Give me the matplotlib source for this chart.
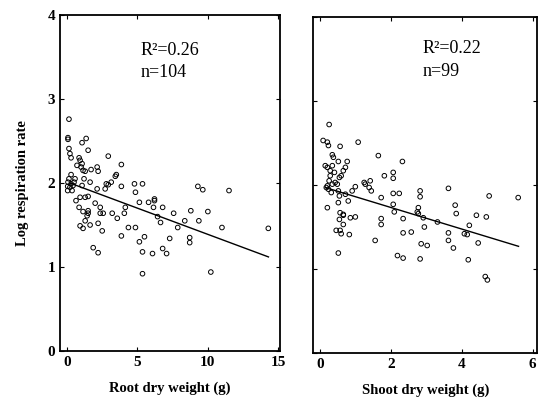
import numpy as np
import matplotlib
matplotlib.use("Agg")
import matplotlib.pyplot as plt

# --- root panel (n=104) ---
root_x = [0.14, 0.07, 0.07, 1.07, 1.36, 0.14, 0.21, 0.29, 1.5, 0.86,
          0.93, 1.07, 1.0, 1.14, 1.29, 2.93, 2.14, 2.21, 1.71, 3.86,
          3.5, 3.43, 0.29, 0.07, 0.29, 0.43, 0.21, 0.36, 1.07, 2.14,
          2.79, 2.93, 3.14, 3.86, 4.79, 5.36, 4.86, 6.21, 9.29, 9.64,
          11.5, 0.5, 0.93, 1.29, 1.5, 0.86, 1.14, 1.5, 1.5, 1.43,
          0.93, 1.14, 1.64, 1.29, 2.0, 2.36, 2.36, 2.57, 3.21, 2.21,
          2.5, 3.57, 4.14, 4.07, 4.36, 4.86, 3.86, 5.14, 5.79, 6.21,
          6.14, 6.79, 6.43, 6.64, 7.57, 7.86, 8.36, 8.79, 9.36, 10.0,
          11.0, 14.29, 5.14, 5.5, 5.36, 6.07, 6.79, 7.07, 7.29, 8.71,
          8.71, 1.86, 2.21, 5.36, 10.21, 2.71, 0.05, 0.14, 0.57, 0.71,
          0.64, 1.64, 0.05, 1.21]
root_y = [2.76, 2.54, 2.52, 2.48, 2.53, 2.41, 2.35, 2.30, 2.39, 2.30,
          2.27, 2.23, 2.19, 2.15, 2.14, 2.32, 2.19, 2.14, 2.16, 2.22,
          2.10, 2.08, 2.10, 2.01, 1.99, 1.97, 1.95, 1.91, 1.97, 1.93,
          1.99, 1.98, 2.01, 1.96, 1.99, 1.99, 1.89, 1.81, 1.96, 1.92,
          1.91, 2.01, 1.83, 1.83, 1.84, 1.71, 1.66, 1.67, 1.64, 1.61,
          1.49, 1.46, 1.50, 1.55, 1.76, 1.71, 1.64, 1.64, 1.64, 1.52,
          1.43, 1.58, 1.71, 1.64, 1.47, 1.47, 1.37, 1.77, 1.77, 1.79,
          1.71, 1.71, 1.60, 1.53, 1.64, 1.47, 1.55, 1.67, 1.55, 1.66,
          1.47, 1.46, 1.30, 1.36, 1.18, 1.16, 1.22, 1.16, 1.34, 1.35,
          1.29, 1.23, 1.17, 0.92, 0.94, 1.93, 1.91, 2.05, 2.05, 2.21,
          1.79, 2.01, 1.96, 2.05]
root_fit_x = [0.2, 14.3]
root_fit_y = [2.0, 1.12]

# --- shoot panel (n=99) ---
shoot_x = [0.25, 0.08, 0.2, 0.23, 0.56, 1.07, 1.64, 2.32, 0.34, 0.37,
           0.51, 0.76, 0.14, 0.2, 0.34, 0.28, 0.71, 0.65, 0.59, 0.54,
           0.28, 0.25, 0.2, 0.23, 0.17, 0.48, 0.42, 1.27, 1.41, 1.38,
           1.44, 0.99, 0.9, 1.81, 2.06, 2.06, 1.72, 2.06, 2.23, 2.82,
           2.82, 3.62, 4.77, 5.59, 0.51, 0.54, 0.79, 0.34, 0.2, 0.51,
           0.31, 0.56, 0.65, 0.54, 0.85, 0.99, 0.65, 0.45, 0.56, 0.59,
           0.82, 0.51, 1.55, 1.72, 1.72, 2.06, 2.09, 2.34, 2.34, 2.57,
           2.77, 2.74, 2.77, 2.91, 2.94, 3.31, 2.85, 3.02, 2.18, 2.34,
           2.82, 3.81, 3.84, 3.62, 3.62, 3.76, 4.07, 4.15, 4.21, 4.41,
           4.69, 4.46, 4.18, 4.66, 4.72, 1.24, 0.65, 0.4, 0.71]
shoot_y = [2.72, 2.53, 2.51, 2.47, 2.46, 2.51, 2.35, 2.28, 2.36, 2.33,
           2.28, 2.28, 2.23, 2.21, 2.23, 2.17, 2.21, 2.17, 2.11, 2.09,
           2.11, 2.05, 1.99, 1.95, 1.97, 2.01, 2.03, 2.01, 2.05, 1.97,
           1.93, 1.98, 1.93, 2.11, 2.15, 2.08, 1.85, 1.90, 1.90, 1.93,
           1.86, 1.96, 1.87, 1.85, 1.93, 1.87, 1.81, 2.01, 1.73, 1.79,
           1.91, 1.67, 1.65, 1.59, 1.61, 1.62, 1.53, 1.46, 1.46, 1.42,
           1.41, 1.19, 1.34, 1.60, 1.53, 1.77, 1.68, 1.60, 1.43, 1.44,
           1.73, 1.68, 1.66, 1.61, 1.50, 1.56, 1.30, 1.28, 1.16, 1.13,
           1.12, 1.76, 1.66, 1.43, 1.34, 1.25, 1.42, 1.41, 1.52, 1.64,
           1.62, 1.31, 1.11, 0.91, 0.87, 2.03, 1.64, 2.15, 1.89]
shoot_fit_x = [0.14, 5.6]
shoot_fit_y = [1.97, 1.27]

plt.rcParams['font.family'] = ['Liberation Serif', 'DejaVu Serif']

fig = plt.figure(figsize=(5.4, 4.0), dpi=100)
ax1 = fig.add_axes([0.111, 0.1225, 0.407, 0.84])
ax2 = fig.add_axes([0.580, 0.1175, 0.415, 0.84])


def style_axis(ax):
    ax.tick_params(direction='in', top=True, right=True, length=3, width=0.8,
                   labelsize=11)
    for lab in ax.get_xticklabels() + ax.get_yticklabels():
        lab.set_fontweight('bold')
    for sp in ax.spines.values():
        sp.set_linewidth(1.3)


ax1.scatter(root_x, root_y, s=11, facecolors='none', edgecolors='black', linewidths=0.7)
ax1.plot(root_fit_x, root_fit_y, color='black', linewidth=1.0)
ax1.set_xlim(-0.5, 15.1)
ax1.set_ylim(0, 4)
ax1.set_xticks([0, 5, 10, 15])
ax1.set_yticks([0, 1, 2, 3, 4])
style_axis(ax1)
ax1.set_xlabel('Root dry weight (g)', fontsize=10.5, fontweight='bold', labelpad=9)
ax1.set_ylabel('Log respiration rate', fontsize=10.5, fontweight='bold', labelpad=13)
ax1.text(5.2, 3.58, 'R²=0.26', fontsize=13, va='center')
ax1.text(5.2, 3.32, 'n=104', fontsize=13, va='center')

ax2.scatter(shoot_x, shoot_y, s=11, facecolors='none', edgecolors='black', linewidths=0.7)
ax2.plot(shoot_fit_x, shoot_fit_y, color='black', linewidth=1.0)
ax2.set_xlim(-0.2, 6.13)
ax2.set_ylim(0, 4)
ax2.set_xticks([0, 2, 4, 6])
ax2.set_yticks([0, 1, 2, 3, 4])
style_axis(ax2)
ax2.set_yticklabels([])
ax2.set_xlabel('Shoot dry weight (g)', fontsize=10.5, fontweight='bold', labelpad=9)
ax2.text(2.88, 3.62, 'R²=0.22', fontsize=13, va='center')
ax2.text(2.88, 3.35, 'n=99', fontsize=13, va='center')

fig.savefig('out.png', dpi=100)
